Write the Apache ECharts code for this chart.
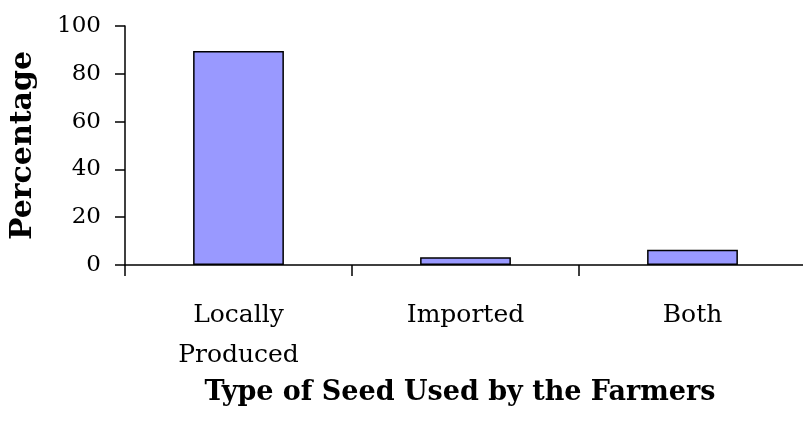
<!DOCTYPE html>
<html>
<head>
<meta charset="utf-8">
<script src="https://cdn.jsdelivr.net/npm/echarts@6/dist/echarts.min.js"></script>
<style>
	html, body { margin: 0; padding: 0; background: #ffffff; overflow: hidden; }
	/* a little wider than the window: the plot's last x tick falls outside the picture */
	#main { width: 806px; height: 433px; }
</style>
</head>
<body>
<div id="main"></div>
<script>
// data
var categories = ['Locally\nProduced', 'Imported', 'Both'];
var percentages = [89.5, 3.2, 6.4];
var yTicks = [0, 20, 40, 60, 80, 100];

var chart = echarts.init(document.getElementById('main'));
var font = 'DejaVu Serif';

var option = {
	animation: false,
	grid: { left: 125, right: 0, top: 26, bottom: 168 },
	xAxis: {
		type: 'category',
		data: categories,
		name: 'Type of Seed Used by the Farmers',
		nameLocation: 'middle',
		nameGap: 113,
		nameTextStyle: { fontFamily: font, fontWeight: 'bold', fontSize: 27, color: '#000', padding: [0, 11, 0, 0] },
		axisLine: { lineStyle: { color: '#000', width: 1.5 } },
		axisTick: { show: true, interval: 0, length: 11, lineStyle: { color: '#000', width: 1.5 } },
		axisLabel: { fontFamily: font, fontSize: 25, color: '#000', lineHeight: 40, margin: 30, interval: 0 }
	},
	yAxis: {
		type: 'value',
		min: yTicks[0],
		max: yTicks[yTicks.length - 1],
		interval: 20,
		name: 'Percentage',
		nameLocation: 'middle',
		nameGap: 87,
		nameTextStyle: { fontFamily: font, fontWeight: 'bold', fontSize: 30, color: '#000' },
		splitLine: { show: false },
		axisLine: { show: true, lineStyle: { color: '#000', width: 1.5 } },
		axisTick: { show: true, length: 10, lineStyle: { color: '#000', width: 1.5 } },
		axisLabel: { fontFamily: font, fontSize: 23, color: '#000', margin: 24 }
	},
	series: [{
		type: 'bar',
		data: percentages,
		barWidth: '40%',
		itemStyle: { color: '#9999ff', borderColor: '#000', borderWidth: 1.5 }
	}]
};

chart.setOption(option);
</script>
</body>
</html>
